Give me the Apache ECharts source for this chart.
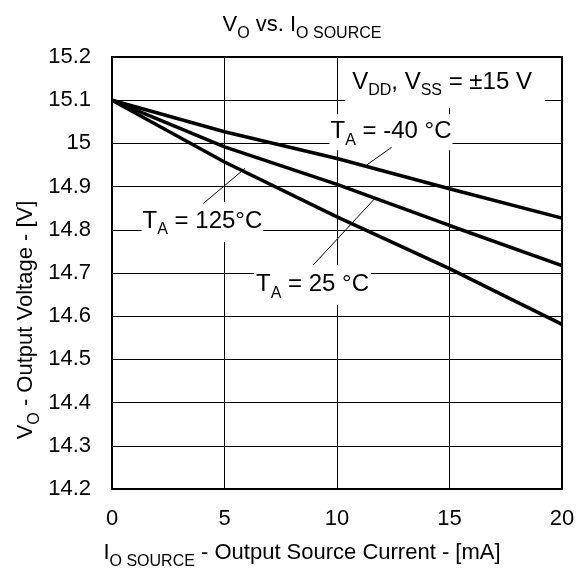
<!DOCTYPE html>
<html><head><meta charset="utf-8">
<script src="https://cdn.jsdelivr.net/npm/echarts@6/dist/echarts.min.js"></script>
<style>html,body{margin:0;padding:0;background:#fff}#c{width:582px;height:573px}</style>
</head><body><div id="c"></div>
<script>
// ---- data ----
const currentMA = [0, 5, 10, 15, 20];
const voutM40 = [15.1, 15.027, 14.965, 14.895, 14.827];
const vout25 = [15.1, 14.992, 14.905, 14.81, 14.717];
const vout125 = [15.1, 14.957, 14.83, 14.71, 14.581];
const xTicks = [0, 5, 10, 15, 20];
const yTicks = [14.2, 14.3, 14.4, 14.5, 14.6, 14.7, 14.8, 14.9, 15.0, 15.1, 15.2];

const FONT = '"Liberation Sans", Arial, sans-serif';
const chart = echarts.init(document.getElementById('c'), null, {renderer: 'canvas'});

function pairs(xs, ys) { return xs.map((x, i) => [x, ys[i]]); }
const lineStyle = {color: '#000', width: 3.5};

chart.setOption({
  animation: false,
  backgroundColor: '#fff',
  grid: {left: 112, right: 20, top: 57, bottom: 84, show: true, borderColor: '#000', borderWidth: 2},
  xAxis: {
    type: 'value', min: xTicks[0], max: xTicks[xTicks.length - 1], interval: 5,
    axisLine: {show: false}, axisTick: {show: false},
    splitLine: {show: true, lineStyle: {color: '#000', width: 1}},
    axisLabel: {color: '#000', fontSize: 22, fontFamily: FONT, margin: 19}
  },
  yAxis: {
    type: 'value', min: yTicks[0], max: yTicks[yTicks.length - 1], interval: 0.1,
    axisLine: {show: false}, axisTick: {show: false},
    splitLine: {show: true, lineStyle: {color: '#000', width: 1}},
    axisLabel: {color: '#000', fontSize: 22, fontFamily: FONT, margin: 21,
      formatter: v => String(parseFloat(v.toFixed(1)))}
  },
  series: [
    {name: 'TA = -40 °C', type: 'line', data: pairs(currentMA, voutM40), symbol: 'none', lineStyle, z: 5},
    {name: 'TA = 25 °C', type: 'line', data: pairs(currentMA, vout25), symbol: 'none', lineStyle, z: 5},
    {name: 'TA = 125°C', type: 'line', data: pairs(currentMA, vout125), symbol: 'none', lineStyle, z: 5}
  ]
});

// ---- annotations (anchored in data coordinates) ----
const px = (x, y) => chart.convertToPixel({gridIndex: 0}, [x, y]);
const rich = (big, small, pad) => ({
  n: {fontSize: big, fontFamily: FONT, color: '#000', lineHeight: big + 2, verticalAlign: 'top'},
  s: {fontSize: small, fontFamily: FONT, color: '#000', lineHeight: small, verticalAlign: 'top', padding: [pad, 0, 0, 0]}
});
function label(pos, text, align, boxPad, big, small, pad) {
  return {
    type: 'text', x: pos[0], y: pos[1], z: 10,
    style: {text, rich: rich(big, small, pad), align: align, verticalAlign: 'middle',
      backgroundColor: '#fff', padding: boxPad}
  };
}
function leader(a, b) {
  const p = px(a[0], a[1]), q = px(b[0], b[1]);
  return {type: 'line', z: 11, shape: {x1: p[0], y1: p[1], x2: q[0], y2: q[1]}, style: {stroke: '#000', lineWidth: 1}};
}
function plain(x, y, text, rot, big, small, pad) {
  return {type: 'text', x, y, rotation: rot, z: 10,
    style: {text, rich: rich(big, small, pad), align: 'center', verticalAlign: 'middle'}};
}

const graphics = [
  label(px(19.24, 15.14), '{n|V}{s|DD}{n|, V}{s|SS}{n| = ±15 V}', 'right', [12, 13, 12, 7], 24, 16, 13),
  label(px(12.4, 15.026), '{n|T}{s|A}{n| = -40 °C}', 'center', [5, 1, 5, 1], 24, 16, 13),
  label(px(4.02, 14.818), '{n|T}{s|A}{n| = 125°C}', 'center', [7, 1, 7, 1], 24, 16, 13),
  label(px(8.91, 14.672), '{n|T}{s|A}{n| = 25 °C}', 'center', [7, 2, 7, 2], 24, 16, 13),
  leader([12.43, 14.991], [11.32, 14.95]),
  leader([4.06, 14.861], [5.91, 14.942]),
  leader([8.95, 14.719], [11.69, 14.873]),
  plain(302, 26, '{n|V}{s|O}{n| vs. I}{s|O SOURCE}', 0, 22, 16, 12),
  plain(302, 554, '{n|I}{s|O SOURCE}{n| - Output Source Current - [mA]}', 0, 22, 16, 12),
  plain(27, 320, '{n|V}{s|O}{n| - Output Voltage - [V]}', Math.PI / 2, 22, 16, 12)
];
chart.setOption({graphic: graphics});
</script>
</body></html>
